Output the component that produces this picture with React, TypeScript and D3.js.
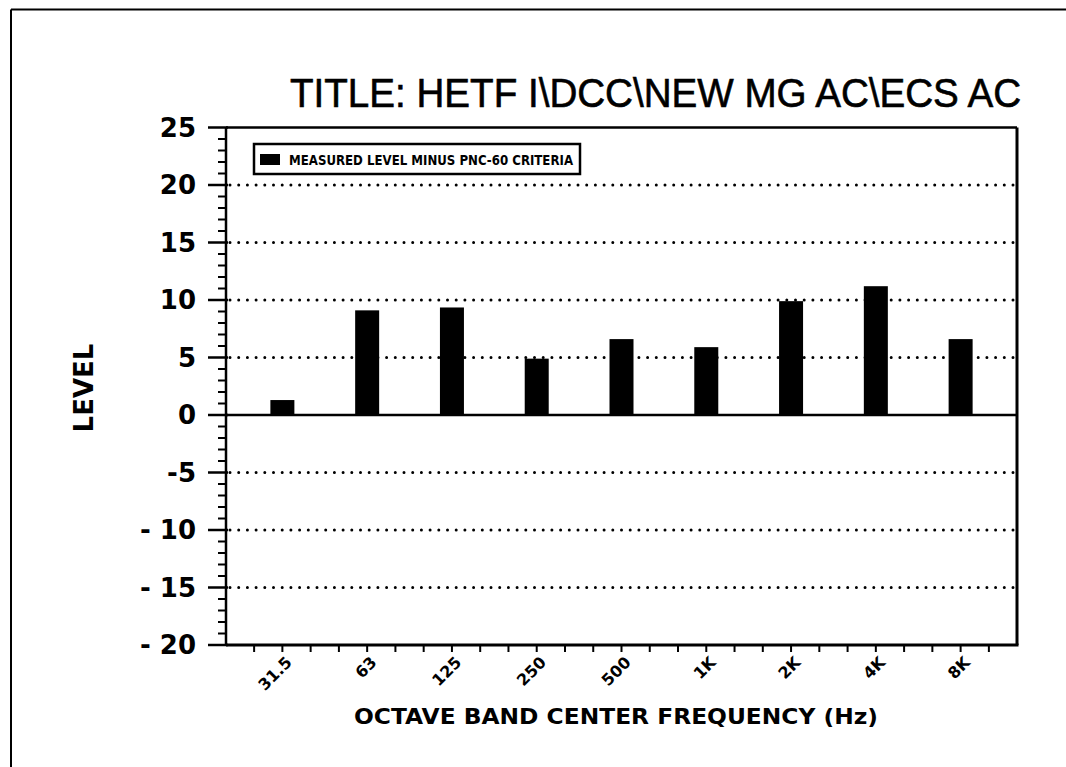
import React from "react";
import * as d3 from "d3";

const categories = ["31.5", "63", "125", "250", "500", "1K", "2K", "4K", "8K"];
const values = [1.3, 9.1, 9.35, 4.9, 6.6, 5.9, 9.9, 11.2, 6.6];
const yTicks = [25, 20, 15, 10, 5, 0, -5, -10, -15, -20];
const yTickLabels = ["25", "20", "15", "10", "5", "0", "-5", "- 10", "- 15", "- 20"];
const gridValues = [20, 15, 10, 5, -5, -10, -15];
const title = "TITLE:  HETF I\\DCC\\NEW MG AC\\ECS AC";
const legendLabel = "MEASURED LEVEL MINUS PNC-60 CRITERIA";
const xTitle = "OCTAVE BAND CENTER FREQUENCY (Hz)";
const yTitle = "LEVEL";

const W = 1066;
const H = 767;
const L = 226, R = 1017, T = 127.5, B = 645;
const FONT = "'DejaVu Sans', Verdana, sans-serif";

export default function App() {
  const y = d3.scaleLinear().domain([-20, 25]).range([B, T]);
  const x = d3.scalePoint<string>().domain(categories).range([L, R]).padding(0.665);
  const step = x.step();
  const x0 = x(categories[0]) as number;
  const barW = 24;

  const minorX: number[] = d3.range(-1, 26).map((k) => x0 + (k * step) / 3);
  const minorY: number[] = d3.range(-20, 26).filter((v) => v % 5 !== 0);

  return (
    <svg
      width={W}
      height={H}
      style={{ position: "absolute", left: 0, top: 0, background: "#fff" }}
    >
      <rect x={0} y={0} width={W} height={H} fill="#fff" />
      {/* scan frame */}
      <line x1={11} y1={9.5} x2={W} y2={9.5} stroke="#000" strokeWidth={2} />
      <line x1={11} y1={9.5} x2={11} y2={H} stroke="#000" strokeWidth={2} />

      {/* title */}
      <text
        x={290}
        y={107}
        fontFamily="'Liberation Sans Narrow', 'Liberation Sans', Arial, sans-serif"
        fontSize={40}
        textLength={731}
        lengthAdjust="spacingAndGlyphs"
        stroke="#000"
        strokeWidth={0.6}
        fill="#000"
      >
        {title}
      </text>

      {/* gridlines */}
      {gridValues.map((v) => (
        <line
          key={"g" + v}
          x1={L + 4}
          x2={R - 4}
          y1={y(v)}
          y2={y(v)}
          stroke="#000"
          strokeWidth={3}
          strokeLinecap="round"
          strokeDasharray="0,8.7"
        />
      ))}

      {/* bars */}
      {categories.map((c, i) => {
        const v = values[i];
        const cx = x(c) as number;
        return (
          <rect
            key={"b" + c}
            x={cx - barW / 2}
            y={Math.min(y(v), y(0))}
            width={barW}
            height={Math.abs(y(v) - y(0))}
            fill="#000"
          />
        );
      })}

      {/* zero line */}
      <line x1={L} x2={R} y1={y(0)} y2={y(0)} stroke="#000" strokeWidth={2.5} />

      {/* plot frame */}
      <line x1={L} x2={R} y1={T} y2={T} stroke="#000" strokeWidth={2.5} />
      <line x1={R} x2={R} y1={T} y2={B} stroke="#000" strokeWidth={3} />
      <line x1={L} x2={R + 1.5} y1={B} y2={B} stroke="#000" strokeWidth={3} />
      <line x1={L} x2={L} y1={T} y2={B} stroke="#000" strokeWidth={2.5} />

      {/* y ticks */}
      {minorY.map((v) => (
        <line key={"my" + v} x1={L - 8} x2={L} y1={y(v)} y2={y(v)} stroke="#000" strokeWidth={2} />
      ))}
      {yTicks.map((v, i) => (
        <g key={"yt" + v}>
          <line x1={L - 18} x2={L + 2} y1={y(v)} y2={y(v)} stroke="#000" strokeWidth={2.5} />
          <text
            x={196}
            y={y(v)}
            dy="0.36em"
            textAnchor="end"
            fontFamily={FONT}
            fontWeight="bold"
            fontSize={26}
            fill="#000"
          >
            {yTickLabels[i]}
          </text>
        </g>
      ))}

      {/* x ticks */}
      {minorX.map((px, k) => (
        <line key={"mx" + k} x1={px} x2={px} y1={B} y2={B + 7} stroke="#000" strokeWidth={2} />
      ))}
      {categories.map((c) => {
        const cx = x(c) as number;
        return (
          <text
            key={"xl" + c}
            transform={`translate(${cx + 2},${655}) rotate(-45)`}
            textAnchor="end"
            dy="0.75em"
            fontFamily={FONT}
            fontWeight="bold"
            fontSize={16}
            fill="#000"
          >
            {c}
          </text>
        );
      })}

      {/* axis titles */}
      <text
        x={616}
        y={724}
        textAnchor="middle"
        fontFamily={FONT}
        fontWeight="bold"
        fontSize={21}
        textLength={524}
        lengthAdjust="spacingAndGlyphs"
        fill="#000"
      >
        {xTitle}
      </text>
      <text
        transform={`translate(${93},${388}) rotate(-90)`}
        textAnchor="middle"
        fontFamily={FONT}
        fontWeight="bold"
        fontSize={26}
        fill="#000"
      >
        {yTitle}
      </text>

      {/* legend */}
      <rect x={254} y={144} width={326} height={30} fill="#fff" stroke="#000" strokeWidth={2.5} />
      <rect x={260} y={154} width={20} height={11} fill="#000" />
      <text
        x={289}
        y={165}
        fontFamily={FONT}
        fontWeight="bold"
        fontSize={14}
        textLength={284}
        lengthAdjust="spacingAndGlyphs"
        fill="#000"
      >
        {legendLabel}
      </text>
    </svg>
  );
}
